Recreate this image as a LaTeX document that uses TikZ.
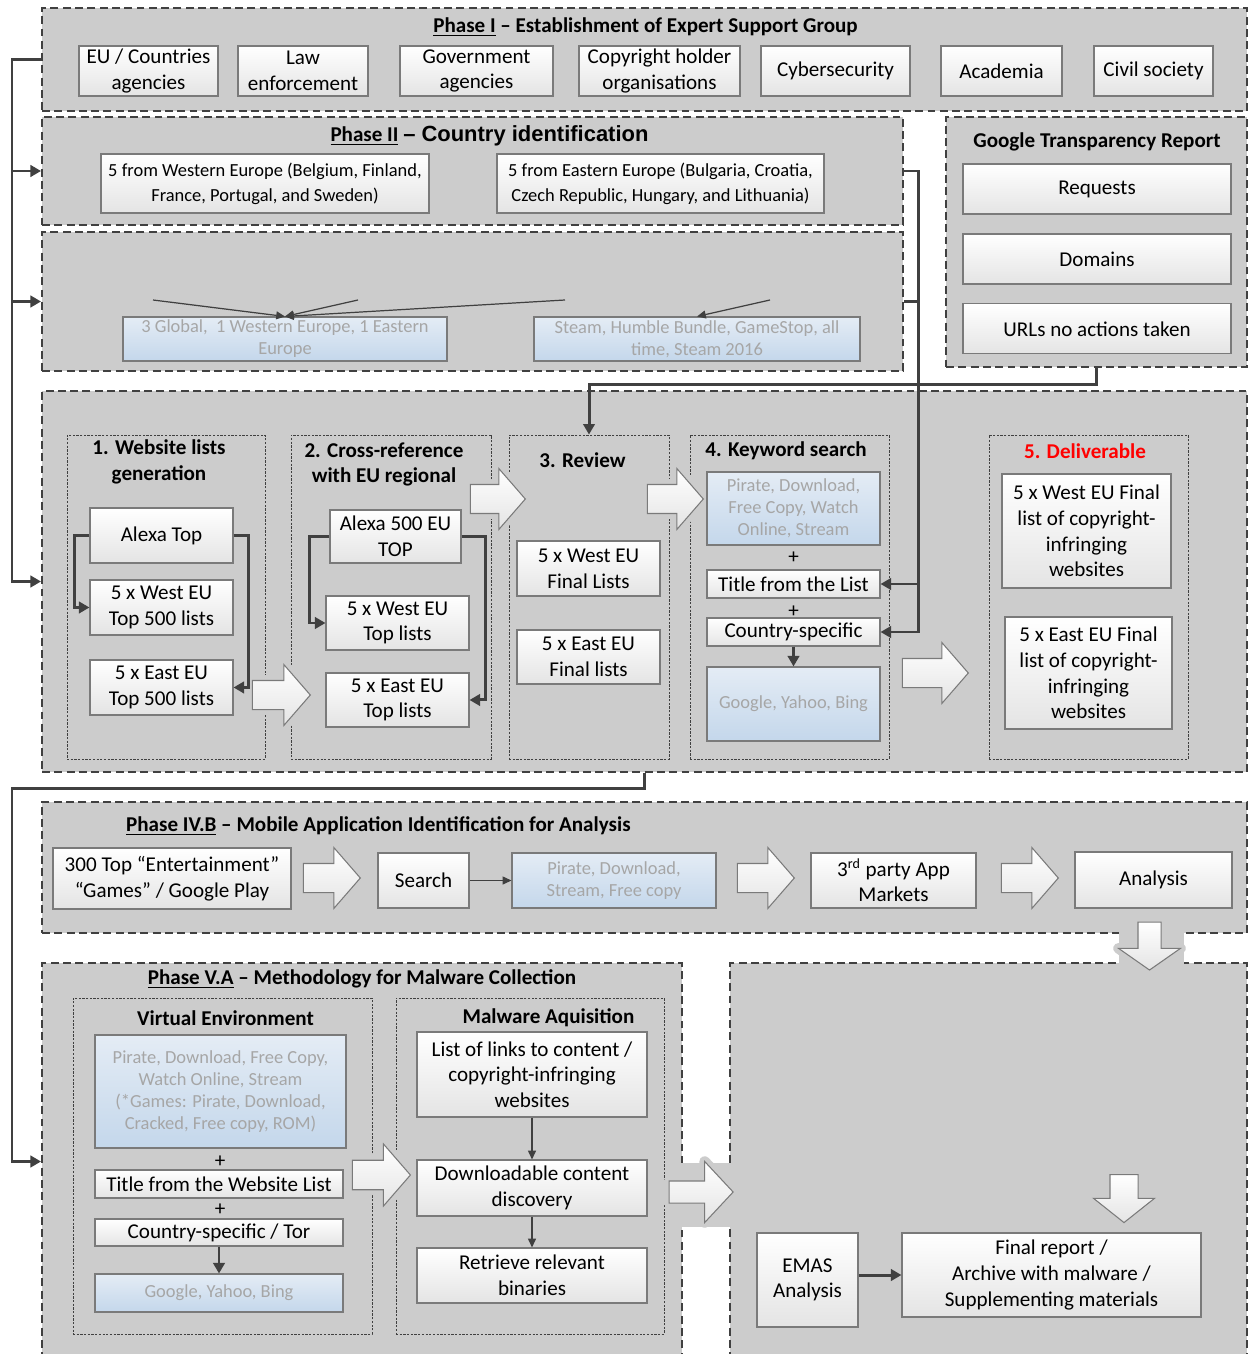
\documentclass[tikz,border=0pt]{standalone}
\usepackage{fontspec}
\setmainfont{Carlito}
\newfontfamily\arialfont{Liberation Sans}
\usepackage{tikz}
\usetikzlibrary{arrows.meta, positioning, shapes.arrows}

\definecolor{pgray}{HTML}{CCCCCC}
\definecolor{dgray}{HTML}{404040}
\definecolor{bgray}{HTML}{7A7A7A}
\definecolor{boxbot}{HTML}{E4E4E4}
\definecolor{bluetop}{HTML}{E4ECF5}
\definecolor{bluebot}{HTML}{C4D7EB}
\definecolor{kwtext}{HTML}{A6A6A6}

\begin{document}
\begin{tikzpicture}[x=0.02cm,y=-0.02cm,>={Triangle[length=6pt,width=6.5pt]},node distance=1.4cm,on grid,
	wh/.style 2 args={minimum width=#1*0.02cm,minimum height=#2*0.02cm},
	phase/.style={draw=dgray,line width=1.1pt,dash pattern=on 4.5pt off 2.5pt,fill=pgray,inner sep=0},
	stage/.style={draw=dgray,line width=0.5pt,dash pattern=on 1.3pt off 0.8pt,inner sep=0},
	box/.style={draw=bgray,line width=0.6pt,top color=white,bottom color=boxbot,align=center,inner sep=1pt,font=\fontsize{12}{14.6}\selectfont},
	kwbox/.style={box,top color=bluetop,bottom color=bluebot,text=kwtext,font=\fontsize{10.5}{12.5}\selectfont},
	hd/.style={align=center,font=\bfseries\fontsize{12}{14.6}\selectfont},
	plus/.style={font=\fontsize{12}{14}\selectfont,inner sep=0}]

	\tikzset{conn/.style={->,draw=dgray,line width=1.7pt}}
	\tikzset{lnk/.style={-{Triangle[length=5pt,width=4.5pt]},draw=dgray,line width=0.7pt}}
	% block arrows: wh={head width}{length}
	\tikzset{barrow/.style={single arrow,draw=bgray,line width=0.6pt,top color=white,bottom color=boxbot,
		single arrow head extend=0.32cm,single arrow tip angle=98,inner xsep=0,inner ysep=0.28cm,
		preaction={draw=pgray,line width=6pt,line join=round}}}
	\tikzset{gap/.style={fill=pgray}}

	\path[use as bounding box,fill=white] (0,0) rectangle (1249,1354);

	% phase frames
	\node[phase,wh={1205}{103}] (p1)  at (644.5,59.5)  {};
	\node[phase,wh={861}{108}]  (p2)  at (472.5,171)   {};
	\node[phase,wh={861}{139}]  (sel) at (472.5,301.5) {};
	\node[phase,wh={301}{250}]  (gtr) at (1096.5,242)  {};
	\node[phase,wh={1205}{381}] (p3)  at (644.5,581.5) {};
	\node[phase,wh={1205}{131}] (p4)  at (644.5,867.5) {};
	\node[phase,wh={640}{397}]  (p5)  at (362,1161.5)  {};
	\node[phase,wh={517}{397}]  (p6)  at (988.5,1161.5) {};

	\node[stage,wh={198}{324}] (s1) at (166,597)    {};
	\node[stage,wh={200}{324}] (s2) at (391,597)    {};
	\node[stage,wh={160}{324}] (s3) at (589,597)    {};
	\node[stage,wh={199}{324}] (s4) at (789.5,597)  {};
	\node[stage,wh={199}{324}] (s5) at (1088.5,597) {};
	\node[stage,wh={299}{336}] (ve) at (222.5,1166) {};
	\node[stage,wh={268}{336}] (ma) at (530,1166)   {};

	\coordinate (busL) at (12,0);
	\coordinate (busR) at (918,0);

	% Phase I
	\node[hd] (t1) at (645.5,27) {\underline{Phase I} – Establishment of Expert Support Group};
	\node[box,wh={139}{50}] (eu)    at (148.5,71)  {EU / Countries\\agencies};
	\node[box,wh={130}{50}] (law)   at (303,71)    {Law\\enforcement};
	\node[box,wh={153}{50}] (gov)   at (476.5,71)  {Government\\agencies};
	\node[box,wh={161}{50}] (chold) at (659.5,71)  {Copyright holder\\organisations};
	\node[box,wh={149}{50}] (cyber) at (835.5,71)  {Cybersecurity};
	\node[box,wh={121}{50}] (acad)  at (1001.5,71) {Academia};
	\node[box,wh={119}{50}] (civil) at (1153.5,71) {Civil society};

	% Phase II
	\node[hd] (t2) at (489.5,136) {\underline{Phase II} {\arialfont\fontsize{12.5}{14}\selectfont – Country identification}};
	\node[box,wh={328}{59},font=\fontsize{10.5}{14.2}\selectfont] (west) at (265,183.5)
		{5 from Western Europe (Belgium, Finland,\\France, Portugal, and Sweden)};
	\node[box,wh={327}{59},font=\fontsize{10.5}{14.2}\selectfont] (east) at (660.5,183.5)
		{5 from Eastern Europe (Bulgaria, Croatia,\\Czech Republic, Hungary, and Lithuania)};

	\node[kwbox,wh={324}{44}] (glob) at (285,339)
		{3 Global,\ \ 1 Western Europe, 1 Eastern\\Europe};
	\node[kwbox,wh={326}{44}] (steam) at (697,339)
		{Steam, Humble Bundle, GameStop, all\\time, Steam 2016};
	\coordinate (k1) at (153,300);
	\coordinate (k2) at (358,300);
	\coordinate (k3) at (565,300);
	\coordinate (k4) at (770,300);
	\draw[lnk] (k1) -- (glob.north);
	\draw[lnk] (k2) -- (glob.north);
	\draw[lnk] (k3) -- (glob.north);
	\draw[lnk] (k4) -- (steam.north);

	% Google Transparency Report
	\node[hd] (tg) at (1097,142) {Google Transparency Report};
	\node[box,wh={268}{50}] (req)  at (1097,189)  {Requests};
	\node[box,wh={268}{50}] (dom)  [below=of req] {Domains};
	\node[box,wh={268}{50}] (urls) [below=of dom] {URLs no actions taken};

	% Phase III
	\node[hd] (h1) at (159,462)   {1. Website lists\\generation};
	\node[hd] (h2) at (384,464.5) {2. Cross-reference\\with EU regional};
	\node[hd] (h3) at (582.5,460) {3. Review};
	\node[hd] (h4) at (786,451)   {4. Keyword search};
	\node[hd,text=red] (h5) at (1085,451) {5. Deliverable};

	\node[barrow,wh={60}{58}] (a1) at (275,695)   {};
	\node[barrow,wh={58}{55}] (a2) at (491.5,499) {};
	\node[barrow,wh={59}{56}] (a3) at (669,499)   {};
	\node[barrow,wh={60}{66}] (a4) at (929,673)   {};

	\node[box,wh={143}{55}] (alexa) at (161.5,535.5) {Alexa Top};
	\node[box,wh={143}{55}] (w500) [below=1.44cm of alexa] {5 x West EU\\Top 500 lists};
	\node[box,wh={143}{55}] (e500) [below=1.6cm of w500]   {5 x East EU\\Top 500 lists};
	\draw[conn] (alexa.west) -- ++(-15,0) |- (w500.west);
	\draw[conn] (alexa.east) -- ++(15,0) |- (e500.east);

	\node[box,wh={131}{53}] (alx5) at (395.5,536.5) {Alexa 500 EU\\TOP};
	\node[box,wh={143}{54}] (wtop) at (397.5,623)   {5 x West EU\\Top lists};
	\node[box,wh={143}{54}] (etop) [below=1.54cm of wtop] {5 x East EU\\Top lists};
	\draw[conn] (alx5.west) -- ++(-20,0) |- (wtop.west);
	\draw[conn] (alx5.east) -- ++(24,0) |- (etop.east);

	\node[box,wh={143}{55}] (wfin) at (588.5,568.5) {5 x West EU\\Final Lists};
	\node[box,wh={143}{54}] (efin) [below=1.77cm of wfin] {5 x East EU\\Final lists};

	\node[kwbox,wh={173}{73}] (kw) at (793.5,508.5) {Pirate, Download,\\Free Copy, Watch\\Online, Stream};
	\node[plus] (pl1) at (793.5,558) {+};
	\node[box,wh={173}{28}] (tfl) at (793.5,584) {Title from the List};
	\node[plus] (pl2) at (793.5,612) {+};
	\node[box,wh={173}{28}] (csp) at (793.5,632) {Country-specific};
	\node[kwbox,wh={173}{74}] (ggl) at (793.5,704) {Google, Yahoo, Bing};
	\draw[conn] (csp.south) -- (ggl.north);

	\node[box,wh={169}{114}] (wdel) at (1086.5,531) {5 x West EU Final\\list of copyright-\\infringing\\websites};
	\node[box,wh={167}{112}] (edel) at (1088.5,673) {5 x East EU Final\\list of copyright-\\infringing\\websites};

	% Phase IV.B
	\node[hd,anchor=west] (t4) at (120,826) {\underline{Phase IV.B} – Mobile Application Identification for Analysis};
	\node[box,wh={238}{61}] (top3) at (172,878.5)   {300 Top “Entertainment”\\“Games” / Google Play};
	\node[box,wh={91}{55}]  (srch) at (423.5,880.5) {Search};
	\node[kwbox,wh={204}{55}] (pir) at (614,880.5)  {Pirate, Download,\\Stream, Free copy};
	\node[box,wh={165}{55}] (mkt)  at (893.5,880.5) {3\textsuperscript{rd} party App\\Markets};
	\node[box,wh={157}{56}] (anl)  at (1153.5,880)  {Analysis};
	\draw[lnk] (srch.east) -- (pir.west);
	\node[barrow,wh={60}{57}] (b1) at (325.5,878)  {};
	\node[barrow,wh={60}{57}] (b2) at (759.5,878)  {};
	\node[barrow,wh={60}{57}] (b3) at (1023.5,878) {};
	\fill[gap] (1119,928) rectangle (1184,970);
	\node[barrow,wh={61}{48},rotate=-90,inner ysep=0.22cm,single arrow head extend=0.39cm,
		single arrow tip angle=110] (b4) at (1149.5,942) {};

	% Phase V.A
	\node[hd] (t5) at (362,979) {\underline{Phase V.A} – Methodology for Malware Collection};
	\node[hd] (hv) at (225.5,1018) {Virtual Environment};
	\node[hd] (hm) at (548.5,1018) {Malware Aquisition};

	\node[kwbox,wh={251}{113}] (vkw) at (220.5,1091.5)
		{Pirate, Download, Free Copy,\\Watch Online, Stream\\(*Games: Pirate, Download,\\Cracked, Free copy, ROM)};
	\node[plus] (pl3) at (220,1162) {+};
	\node[box,wh={248}{28}] (vtl) at (219,1184) {Title from the Website List};
	\node[plus] (pl4) at (220,1210) {+};
	\node[box,wh={248}{27}] (vcs) at (219,1232.5) {Country-specific / Tor};
	\node[kwbox,wh={248}{38}] (vgg) at (219,1293) {Google, Yahoo, Bing};
	\draw[conn] (vcs.south) -- (vgg.north);

	\node[box,wh={230}{85}] (links) at (532,1074.5) {List of links to content /\\copyright-infringing\\websites};
	\node[box,wh={230}{56}] (dl)    at (532,1188)   {Downloadable content\\discovery};
	\node[box,wh={230}{55}] (ret)   at (532,1275.5) {Retrieve relevant\\binaries};
	\draw[lnk] (links.south) -- (dl.north);
	\draw[lnk] (dl.south) -- (ret.north);

	\node[barrow,wh={62}{58}] (b5) at (375,1175) {};
	\fill[gap] (676,1163) rectangle (736,1227);
	\node[barrow,wh={60}{64},inner ysep=0.21cm,single arrow head extend=0.39cm,
		single arrow tip angle=94] (b6) at (696,1192) {};

	% final stage
	\node[barrow,wh={60}{48},rotate=-90,inner ysep=0.27cm,single arrow head extend=0.33cm,
		single arrow tip angle=103] (b7) at (1124,1193) {};
	\node[box,wh={101}{94}] (emas) at (807.5,1280)  {EMAS\\Analysis};
	\node[box,wh={299}{84}] (fin)  at (1051.5,1275) {Final report /\\Archive with malware /\\Supplementing materials};
	\draw[conn] (emas.east |- fin.west) -- (fin.west);

	% connectors between phases
	\draw[conn] (p1.west) -| (busL |- p3.west) -- (p3.west);
	\draw[conn] (busL |- p2.west) -- (p2.west);
	\draw[conn] (busL |- sel.west) -- (sel.west);
	\draw[conn] (p2.east) -| (busR |- csp.east) -- (csp.east);
	\draw[conn,-] (sel.east) -- (busR |- sel.east);
	\draw[conn] (busR |- tfl.east) -- (tfl.east);
	\draw[conn] (gtr.south) -- ++(0,17) -| (s3.north);
	\draw[conn] (p3.south) -- ++(0,16) -| (busL |- p5.west) -- (p5.west);
\end{tikzpicture}
\end{document}
